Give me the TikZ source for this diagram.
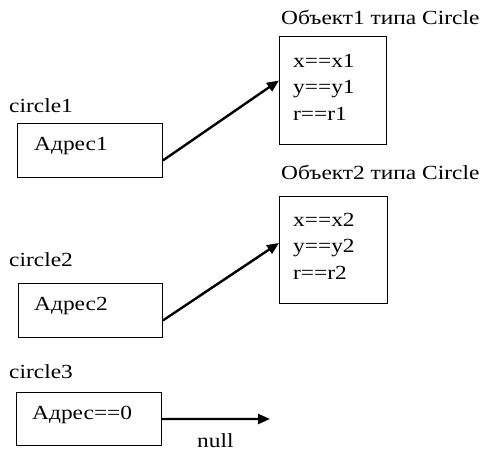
\documentclass[tikz,border=0pt]{standalone}
\usepackage{graphicx}
\usepackage{fontspec}
\setmainfont{Liberation Serif}
\usetikzlibrary{arrows.meta}
% horizontally widened lettering
\newcommand{\wtxt}[1]{\scalebox{1.17}[1]{#1}}
\tikzset{
  cell/.style={draw, line width=0.9pt, inner sep=0pt, anchor=north west},
  lbl/.style={anchor=base west, inner sep=0pt, font=\fontsize{20}{20}\selectfont},
  ptr/.style={line width=2.4pt, -{Triangle[length=12pt,width=10pt]}},
}
\begin{document}
\begin{tikzpicture}[x=1pt, y=-1pt]
\useasboundingbox[fill=white] (0,0) rectangle (483,451);

% reference variables
\node[cell, minimum width=145pt, minimum height=54pt] (c1) at (17,123) {};
\node[cell, minimum width=144pt, minimum height=54pt] (c2) at (18,283) {};
\node[cell, minimum width=145pt, minimum height=53pt] (c3) at (16,392) {};

% objects
\node[cell, minimum width=107pt, minimum height=108pt] (o1) at (279,36) {};
\node[cell, minimum width=108pt, minimum height=107pt] (o2) at (279,196) {};

% labels
\node[lbl] (n1) at (9,112) {\wtxt{circle1}};
\node[lbl] (n2) at (9,266) {\wtxt{circle2}};
\node[lbl] (n3) at (9,378) {\wtxt{circle3}};
\node[lbl] (a1) at (34,150) {\wtxt{Адрес1}};
\node[lbl] (a2) at (34,310) {\wtxt{Адрес2}};
\node[lbl] (a3) at (32,419) {\wtxt{Адрес==0}};

\node[lbl] (t1) at (281,24) {\wtxt{Объект1 типа Circle}};
\node[lbl] (t2) at (281,179) {\wtxt{Объект2 типа Circle}};

\node[lbl] (x1) at (293,67) {\wtxt{x==x1}};
\node[lbl] (y1) at (293,93) {\wtxt{y==y1}};
\node[lbl] (r1) at (293,120) {\wtxt{r==r1}};
\node[lbl] (x2) at (293,226) {\wtxt{x==x2}};
\node[lbl] (y2) at (293,252) {\wtxt{y==y2}};
\node[lbl] (r2) at (293,279) {\wtxt{r==r2}};

\node[lbl] (nl) at (197,447) {\wtxt{null}};

% pointers
\coordinate (nullend) at (270,419);
\draw[ptr] ([yshift=-10pt]c1.east) -- ([yshift=10pt]o1.west);
\draw[ptr] ([yshift=-10pt]c2.east) -- ([yshift=7pt]o2.west);
\draw[ptr] (c3.east) -- (nullend);
\end{tikzpicture}
\end{document}
